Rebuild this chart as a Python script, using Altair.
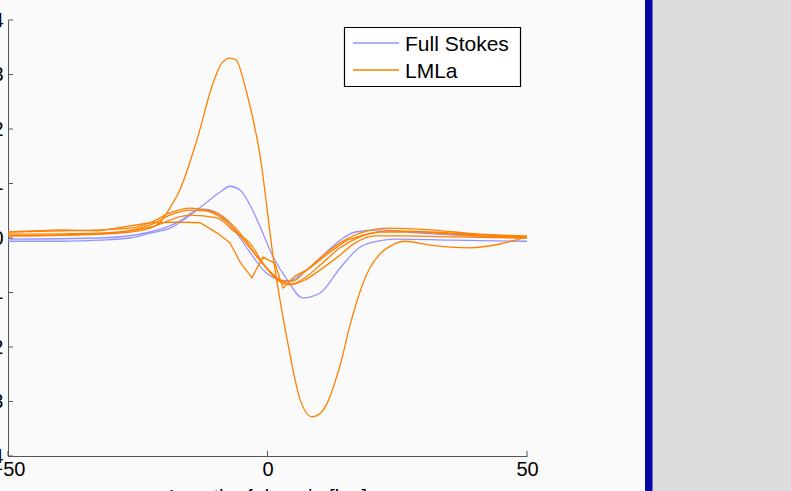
import altair as alt
import pandas as pd

# ---- data ----
fs_a_x = [-50, -40, -32.5, -26.5, -22.6, -18.8, -14.9, -11.1, -9.2, -7.2, -5.3, -3.4, -1.4, 1.1, 3.8, 6.8, 10.1, 14.0, 17.8, 19.7, 25.0, 35.2, 50]
fs_a_y = [-0.06, -0.06, -0.04, 0.0, 0.09, 0.18, 0.42, 0.70, 0.84, 0.95, 0.88, 0.61, 0.20, -0.35, -0.77, -1.10, -1.01, -0.55, -0.17, -0.09, -0.02, -0.04, -0.06]

fs_b_x = [-50, -32.5, -22.6, -16.9, -13.6, -12.0, -10.1, -7.2, -3.4, -0.5, 2.4, 4.3, 6.3, 10.1, 14.0, 16.9, 21.7, 29.4, 39.0, 50]
fs_b_y = [-0.02, 0.0, 0.11, 0.31, 0.51, 0.53, 0.48, 0.24, -0.26, -0.62, -0.77, -0.79, -0.68, -0.37, -0.04, 0.11, 0.15, 0.09, 0.04, 0.0]

lm_1_x = [-50, -36.1, -26.5, -22.6, -20.7, -18.8, -16.9, -13.6, -10.5, -8.8, -7.2, -6.1, -4.0, -1.4, 1.1, 3.8, 6.3, 8.6, 10.7, 14.0, 15.9, 17.8, 19.7, 21.7, 24.0, 26.5, 31.3, 39.0, 44.8, 50]
lm_1_y = [0.04, 0.06, 0.11, 0.18, 0.29, 0.55, 0.88, 1.80, 2.84, 3.21, 3.30, 3.27, 2.66, 1.49, -0.35, -1.87, -2.97, -3.28, -3.16, -2.33, -1.60, -0.99, -0.55, -0.29, -0.13, -0.06, -0.13, -0.18, -0.11, 0.02]

lm_2_x = [-50, -40, -32.5, -26.5, -22.6, -18.8, -14.9, -13.0, -9.7, -7.2, -4.7, -2.0, 0.5, 3.0, 4.9, 7.2, 10.1, 14.0, 17.8, 23.6, 31.3, 40.9, 50]
lm_2_y = [0.11, 0.13, 0.15, 0.18, 0.28, 0.46, 0.55, 0.53, 0.46, 0.28, 0.02, -0.35, -0.62, -0.79, -0.79, -0.62, -0.37, -0.09, 0.09, 0.18, 0.15, 0.07, 0.04]

lm_3_x = [-50, -32.5, -22.6, -18.8, -14.9, -12.0, -9.2, -6.3, -3.4, -0.5, 2.4, 4.7, 7.2, 10.1, 14.0, 17.8, 23.6, 31.3, 40.9, 50]
lm_3_y = [0.04, 0.07, 0.24, 0.42, 0.51, 0.50, 0.39, 0.15, -0.18, -0.51, -0.77, -0.84, -0.73, -0.50, -0.18, 0.02, 0.13, 0.11, 0.06, 0.02]

lm_4_x = [-50, -32.5, -22.6, -14.9, -9.7, -6.3, -3.4, -0.9, 1.4, 4.3, 7.2, 10.1, 14.0, 16.9, 20.7, 25.5, 35.2, 50]
lm_4_y = [0.07, 0.09, 0.20, 0.42, 0.37, 0.11, -0.09, -0.46, -0.73, -0.86, -0.77, -0.59, -0.31, -0.09, 0.04, 0.04, 0.02, 0.0]

lm_5_x = [-50, -40, -32.5, -22.6, -16.9, -13.0, -9.7, -7.2, -5.3, -3.0, -0.9, 1.4, 3.0, 5.3, 8.2, 12.0, 15.3, 18.7, 21.4, 29.4, 40.9, 50]
lm_5_y = [0.11, 0.15, 0.13, 0.28, 0.29, 0.28, 0.09, -0.09, -0.44, -0.73, -0.35, -0.46, -0.92, -0.70, -0.55, -0.26, -0.04, 0.06, 0.11, 0.11, 0.04, 0.02]

smooth_series = [
    ("Full Stokes", "fs_a", fs_a_x, fs_a_y),
    ("Full Stokes", "fs_b", fs_b_x, fs_b_y),
    ("LMLa", "lm_1", lm_1_x, lm_1_y),
    ("LMLa", "lm_2", lm_2_x, lm_2_y),
    ("LMLa", "lm_3", lm_3_x, lm_3_y),
    ("LMLa", "lm_4", lm_4_x, lm_4_y),
]
coarse_series = [
    ("LMLa", "lm_5", lm_5_x, lm_5_y),
]

x_ticks = [-50, 0, 50]
y_ticks = [-4, -3, -2, -1, 0, 1, 2, 3, 4]
legend_names = ["Full Stokes", "LMLa"]
colors = ["#9494ff", "#ff8000"]


def to_frame(series):
    rows = []
    for model, sid, xs, ys in series:
        for i, (xv, yv) in enumerate(zip(xs, ys)):
            rows.append({"model": model, "sid": sid, "x": xv, "y": yv, "i": i})
    return pd.DataFrame(rows)


W, H = 519, 436
FONT = "Liberation Sans"

xscale = alt.Scale(domain=[-50, 50], nice=False, zero=False)
yscale = alt.Scale(domain=[-4, 4], nice=False, zero=False)
cscale = alt.Scale(domain=legend_names, range=colors)

one = pd.DataFrame({"k": [0]})

# right-hand grey panel with blue bar (figure decoration)
deco_grey = alt.Chart(one).mark_rect(color="#dcdcdc").encode(
    x=alt.value(644), x2=alt.value(791), y=alt.value(-20), y2=alt.value(480))
deco_blue = alt.Chart(one).mark_rect(color="#0707a8").encode(
    x=alt.value(637), x2=alt.value(644.5), y=alt.value(-20), y2=alt.value(480))

xaxis = alt.Axis(values=x_ticks, title="Length of domain [km]", ticks=False, tickSize=0,
                 labelFontSize=20, labelFont=FONT, labelColor="black", labelPadding=3,
                 titleFont=FONT, titleFontSize=20, titleFontWeight="normal", titleColor="black",
                 titlePadding=8, domainColor="#555555", grid=False, labelFlush=False)
yaxis = alt.Axis(values=y_ticks, title=None, ticks=False, tickSize=0,
                 labelFontSize=20, labelFont=FONT, labelColor="black", labelPadding=5,
                 domainColor="#555555", grid=False, labelFlush=False)

smooth = alt.Chart(to_frame(smooth_series)).mark_line(strokeWidth=1.3, interpolate="monotone").encode(
    x=alt.X("x:Q", scale=xscale, axis=xaxis),
    y=alt.Y("y:Q", scale=yscale, axis=yaxis),
    color=alt.Color("model:N", scale=cscale, legend=None),
    detail="sid:N",
    order="i:Q",
)
coarse = alt.Chart(to_frame(coarse_series)).mark_line(strokeWidth=1.3, interpolate="linear").encode(
    x=alt.X("x:Q", scale=xscale),
    y=alt.Y("y:Q", scale=yscale),
    color=alt.Color("model:N", scale=cscale, legend=None),
    detail="sid:N",
    order="i:Q",
)

yticks = alt.Chart(pd.DataFrame({"y": y_ticks})).mark_rule(color="#555555", strokeWidth=1).encode(
    y=alt.Y("y:Q", scale=yscale), x=alt.value(0), x2=alt.value(5))
xticks = alt.Chart(pd.DataFrame({"x": x_ticks})).mark_rule(color="#555555", strokeWidth=1).encode(
    x=alt.X("x:Q", scale=xscale), y=alt.value(H), y2=alt.value(H - 5))

# legend box and entries
layers = [deco_grey, deco_blue, smooth, coarse, yticks, xticks]
layers.append(alt.Chart(one).mark_rect(fill="white", stroke="black", strokeWidth=1.2).encode(
    x=alt.value(336.5), x2=alt.value(512.5), y=alt.value(7.5), y2=alt.value(66.5)))
for name, col, yy in zip(legend_names, colors, [23, 50]):
    d = pd.DataFrame({"name": [name]})
    layers.append(alt.Chart(d).mark_rule(color=col, strokeWidth=1.3).encode(
        x=alt.value(345), x2=alt.value(391), y=alt.value(yy)))
    layers.append(alt.Chart(d).mark_text(align="left", baseline="alphabetic", fontSize=21, font=FONT,
                                         color="black").encode(
        x=alt.value(397), y=alt.value(yy + 7.5), text="name:N"))

chart = alt.layer(*layers).properties(
    width=W, height=H,
    autosize=alt.AutoSizeParams(type="none"),
    padding={"left": 8, "top": 20, "right": 264, "bottom": 35},
    background="#fafafa",
).configure_view(stroke=None)

chart.save("out.html", embed_options={"renderer": "svg", "actions": False})
